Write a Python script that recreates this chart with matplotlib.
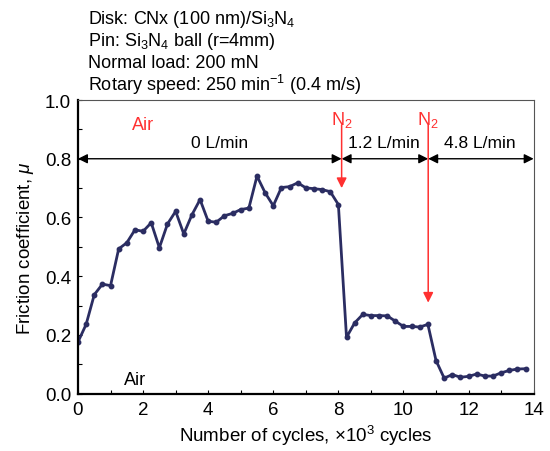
import matplotlib.pyplot as plt
from matplotlib.ticker import MultipleLocator

plt.rcParams['font.family'] = ['Liberation Sans', 'DejaVu Sans']
plt.rcParams['mathtext.fontset'] = 'custom'
plt.rcParams['mathtext.rm'] = 'Liberation Sans'
plt.rcParams['mathtext.it'] = 'Liberation Sans:italic'

# 摩擦係数データ (cycles x10^3, mu)
cycles = [0.00, 0.25, 0.50, 0.75, 1.00, 1.25, 1.50, 1.75, 2.00, 2.25,
          2.50, 2.75, 3.00, 3.25, 3.50, 3.75, 4.00, 4.25, 4.50, 4.75,
          5.00, 5.25, 5.50, 5.75, 6.00, 6.25, 6.50, 6.75, 7.00, 7.25,
          7.50, 7.75, 8.00, 8.25, 8.50, 8.75, 9.00, 9.25, 9.50, 9.75,
          10.00, 10.25, 10.50, 10.75, 11.00, 11.25, 11.50, 11.75, 12.00, 12.25,
          12.50, 12.75, 13.00, 13.25, 13.50, 13.75]
mu = [0.176, 0.236, 0.337, 0.373, 0.368, 0.493, 0.514, 0.558, 0.553, 0.582,
      0.497, 0.578, 0.621, 0.544, 0.609, 0.661, 0.587, 0.584, 0.606, 0.614,
      0.627, 0.632, 0.741, 0.684, 0.640, 0.702, 0.705, 0.718, 0.701, 0.698,
      0.695, 0.688, 0.644, 0.192, 0.241, 0.270, 0.266, 0.266, 0.265, 0.247,
      0.229, 0.229, 0.227, 0.236, 0.113, 0.053, 0.065, 0.056, 0.059, 0.067,
      0.060, 0.060, 0.071, 0.079, 0.084, 0.085]

# ガス流量の区切り
switch_points = [0.0, 8.1, 10.76, 14.0]
flow_labels = ['0 L/min', '1.2 L/min', '4.8 L/min']
arrow_level = 0.8

conditions = ['Disk: CNx (100 nm)/Si$_3$N$_4$',
              'Pin: Si$_3$N$_4$ ball (r=4mm)',
              'Normal load: 200 mN',
              'Rotary speed: 250 min$^{-1}$ (0.4 m/s)']

fig = plt.figure(figsize=(5.5, 4.52), dpi=100)
ax = fig.add_axes([0.1418, 0.1268, 0.8285, 0.6497])

ax.plot(cycles, mu, color='#2b2d62', linewidth=2.0, marker='o', markersize=3.2)

ax.set_xlim(0, 14)
ax.set_ylim(0, 1.0)
ax.xaxis.set_major_locator(MultipleLocator(2))
ax.xaxis.set_minor_locator(MultipleLocator(1))
ax.yaxis.set_major_locator(MultipleLocator(0.2))
ax.yaxis.set_minor_locator(MultipleLocator(0.1))
ax.yaxis.set_major_formatter(plt.FuncFormatter(lambda v, p: f'{v:.1f}'))
ax.tick_params(which='both', direction='in', length=3, width=0.8, labelsize=13.5, pad=5)
ax.tick_params(which='both', top=False, right=False)

for s in ['left', 'bottom']:
    ax.spines[s].set_linewidth(1.6)
for s in ['top', 'right']:
    ax.spines[s].set_linewidth(0.8)
    ax.spines[s].set_color('#555555')

ax.set_xlabel('Number of cycles, \u00d710$^3$ cycles', fontsize=13.5, labelpad=4)
ax.set_ylabel('Friction coefficient, $\\mu$', fontsize=13.5, labelpad=6)

# 流量区間の両矢印
for i in range(len(flow_labels)):
    x0, x1 = switch_points[i], switch_points[i + 1]
    ax.annotate('', xy=(x0, arrow_level), xytext=(x1, arrow_level),
                arrowprops=dict(arrowstyle='<|-|>', color='black', lw=1.0,
                                mutation_scale=14, shrinkA=0, shrinkB=0))
label_x = [4.35, 9.4, 12.35]
for lx, lab in zip(label_x, flow_labels):
    ax.text(lx, 0.855, lab, ha='center', va='center', fontsize=12.5)

# N2 導入の赤矢印
n2_tips = [0.70, 0.31]
for xs, tip in zip(switch_points[1:3], n2_tips):
    ax.annotate('', xy=(xs, tip), xytext=(xs, 0.915),
                arrowprops=dict(arrowstyle='-|>', color='#ff3030', lw=1.1,
                                mutation_scale=15, shrinkA=0, shrinkB=0))
    ax.text(xs, 0.935, 'N$_2$', color='#ff3030', ha='center', va='center', fontsize=13)

ax.text(2.0, 0.915, 'Air', color='#ff3030', ha='center', va='center', fontsize=13)
ax.text(1.75, 0.05, 'Air', color='black', ha='center', va='center', fontsize=13)

for k, line in enumerate(conditions):
    fig.text(88 / 550, 1 - (20 + k * 21.7) / 452, line, ha='left', va='center', fontsize=13)

fig.savefig('out.png', dpi=100)
